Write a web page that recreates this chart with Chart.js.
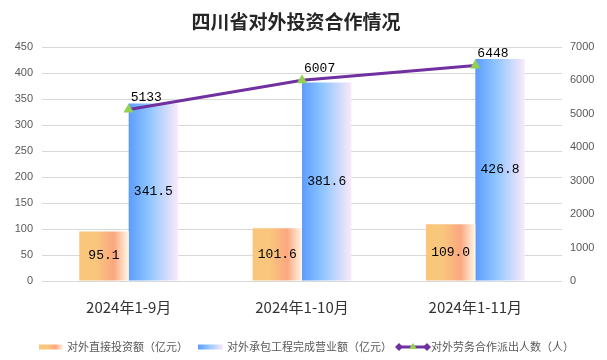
<!DOCTYPE html>
<html>
<head>
<meta charset="utf-8">
<script src="https://cdn.jsdelivr.net/npm/chart.js@4/dist/chart.umd.min.js"></script>
<style>
  html, body { margin: 0; background: #fff; }
</style>
</head>
<body>
<canvas id="chart" width="607" height="360"></canvas>
<script>
const title = '四川省对外投资合作情况';
const categories = ['2024年1-9月', '2024年1-10月', '2024年1-11月'];
const directInvest = [95.1, 101.6, 109.0];
const contractRevenue = [341.5, 381.6, 426.8];
const laborWorkers = [5133, 6007, 6448];
const seriesNames = ['对外直接投资额（亿元）', '对外承包工程完成营业额（亿元）', '对外劳务合作派出人数（人）'];

const CAT_PCT = 0.57;
const ORANGE = [[0, '#f9c67b'], [0.35, '#f9c67d'], [0.7, '#fba77f'], [1, '#fff7e6']];
const BLUE = [[0, '#5c9cff'], [0.4, '#8cc4ff'], [1, '#fbe9f9']];

// horizontal gradient per bar, worked out from the category scale
function barFill(stops, side) {
    return ctx => {
        const chart = ctx.chart, x = chart.scales.x;
        if (!x || !chart.chartArea || ctx.dataIndex === undefined) return stops[0][1];
        const center = x.getPixelForValue(ctx.dataIndex);
        const w = x.width / categories.length * CAT_PCT / 2;
        const left = side < 0 ? center - w : center;
        const g = chart.ctx.createLinearGradient(left, 0, left + w, 0);
        stops.forEach(([o, c]) => g.addColorStop(o, c));
        return g;
    };
}

function hGrad(c, x0, x1, stops) {
    const g = c.createLinearGradient(x0, 0, x1, 0);
    stops.forEach(([o, col]) => g.addColorStop(o, col));
    return g;
}

const decorations = {
    id: 'decorations',
    afterDatasetsDraw(chart) {
        const c = chart.ctx;
        c.save();
        c.fillStyle = '#000';
        c.font = '13px "Liberation Mono"';
        c.textBaseline = 'middle';
        chart.data.datasets.forEach((ds, i) => {
            chart.getDatasetMeta(i).data.forEach((el, j) => {
                const v = ds.data[j];
                if (ds.type === 'line') {
                    c.textAlign = 'left';
                    c.fillText(String(v), el.x + 2, el.y - 12);
                } else {
                    c.textAlign = 'center';
                    c.fillText(v.toFixed(1), el.x, (el.y + el.base) / 2);
                }
            });
        });
        c.restore();
    },
    afterDraw(chart) {
        const c = chart.ctx;
        c.save();
        // title
        c.fillStyle = '#262626';
        c.font = 'bold 19px "Noto Sans CJK SC"';
        c.textAlign = 'center';
        c.textBaseline = 'middle';
        c.fillText(title, 296, 22);

        // legend
        const ly = 347;
        c.font = '11px "Noto Sans CJK SC"';
        c.textAlign = 'left';
        c.fillStyle = hGrad(c, 39, 63, ORANGE);
        c.fillRect(39, ly - 2.5, 24, 5);
        c.fillStyle = '#595959';
        c.fillText(seriesNames[0], 67, ly);

        c.fillStyle = hGrad(c, 198, 223, BLUE);
        c.fillRect(198, ly - 2.5, 25, 5);
        c.fillStyle = '#595959';
        c.fillText(seriesNames[1], 227, ly);

        c.strokeStyle = '#7030a0';
        c.lineWidth = 3;
        c.beginPath(); c.moveTo(398, ly); c.lineTo(428, ly); c.stroke();
        c.fillStyle = '#7030a0';
        [399, 427].forEach(dx => {
            c.beginPath();
            c.moveTo(dx - 4, ly); c.lineTo(dx, ly - 4); c.lineTo(dx + 4, ly); c.lineTo(dx, ly + 4);
            c.closePath(); c.fill();
        });
        c.fillStyle = '#92d050';
        c.beginPath(); c.moveTo(413, ly - 4); c.lineTo(417, ly + 2); c.lineTo(409, ly + 2); c.closePath(); c.fill();
        c.fillStyle = '#595959';
        c.fillText(seriesNames[2], 431, ly);
        c.restore();
    }
};

new Chart(document.getElementById('chart'), {
    data: {
        labels: categories,
        datasets: [
            {
                type: 'line', label: seriesNames[2], data: laborWorkers, yAxisID: 'y1', order: 0,
                borderColor: '#7030a0', borderWidth: 3, tension: 0,
                pointStyle: 'triangle', pointRadius: 6, pointBackgroundColor: '#92d050',
                pointBorderColor: '#92d050', pointBorderWidth: 0
            },
            {
                type: 'bar', label: seriesNames[0], data: directInvest, yAxisID: 'y', order: 1,
                backgroundColor: barFill(ORANGE, -1), borderWidth: 0,
                categoryPercentage: CAT_PCT, barPercentage: 1
            },
            {
                type: 'bar', label: seriesNames[1], data: contractRevenue, yAxisID: 'y', order: 1,
                backgroundColor: barFill(BLUE, 1), borderWidth: 0,
                categoryPercentage: CAT_PCT, barPercentage: 1
            }
        ]
    },
    options: {
        responsive: false,
        animation: false,
        layout: { padding: { top: 47, left: 0, right: 0, bottom: 0 } },
        plugins: { legend: { display: false }, title: { display: false }, tooltip: { enabled: false } },
        scales: {
            x: {
                grid: { display: false }, border: { display: false },
                ticks: { color: '#333', font: { family: 'Noto Sans CJK SC', size: 15 }, padding: 9 },
                afterFit: s => { s.height = 79; }
            },
            y: {
                position: 'left', min: 0, max: 450,
                grid: { color: '#d9d9d9', drawTicks: false }, border: { display: false },
                ticks: { stepSize: 50, color: '#595959', font: { family: 'Liberation Sans', size: 11 }, padding: 9 },
                afterFit: s => { s.width = 42; }
            },
            y1: {
                position: 'right', min: 0, max: 7000,
                grid: { display: false, drawTicks: false }, border: { display: false },
                ticks: {
                    stepSize: 1000, color: '#595959', font: { family: 'Liberation Sans', size: 11 }, padding: 8,
                    callback: v => String(v)
                },
                afterFit: s => { s.width = 45; }
            }
        }
    },
    plugins: [decorations]
});
</script>
</body>
</html>
